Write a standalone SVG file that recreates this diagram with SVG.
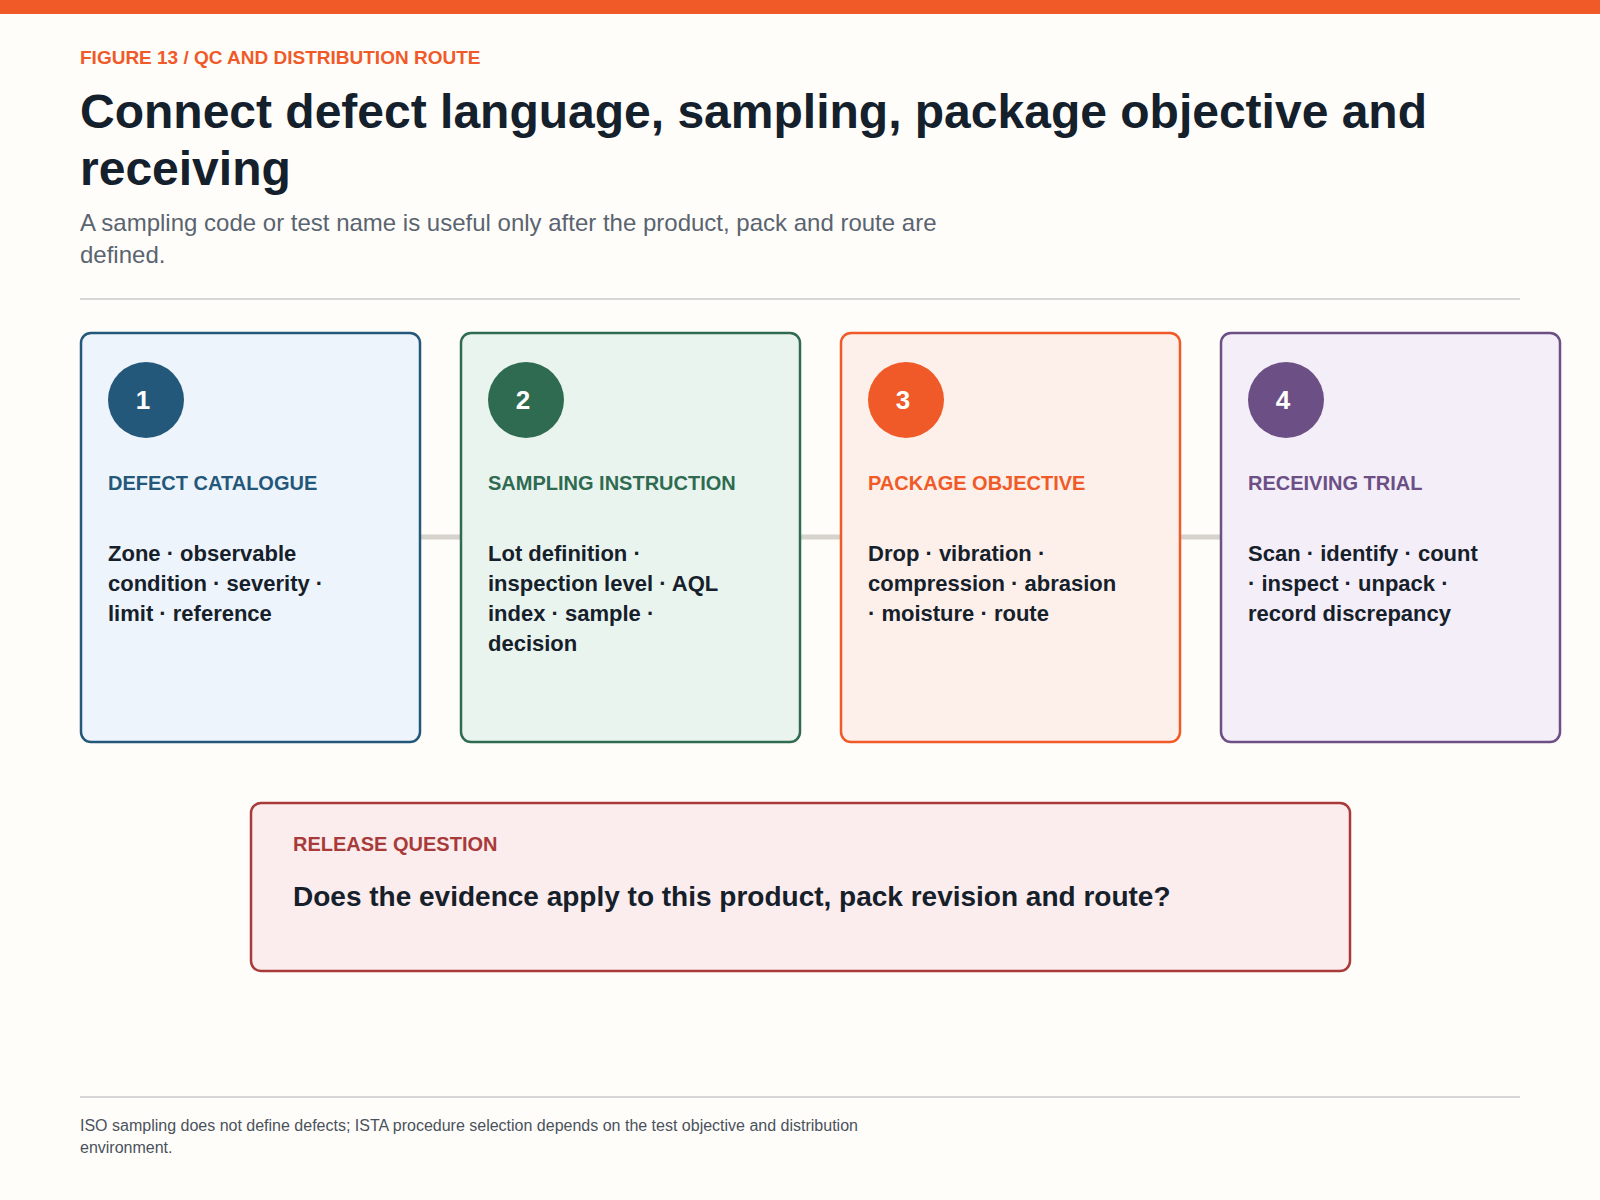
<svg xmlns="http://www.w3.org/2000/svg" width="1600" height="1200" viewBox="0 0 1600 1200">
<style>
text{font-family:"Liberation Sans",Arial,sans-serif}
.eb{font-size:19px;font-weight:bold;fill:#f05a28}
.title{font-size:48px;font-weight:bold;fill:#14202b}
.sub{font-size:24px;fill:#5a6470}
.card{stroke-width:2.5}
.num{font-size:26px;font-weight:bold;fill:#fff;text-anchor:middle}
.hd{font-size:20px;font-weight:bold}
.body{font-size:22px;font-weight:bold;fill:#16202a}
.conn{stroke:#d6d2cc;stroke-width:5}
.foot{font-size:16px;fill:#4a525c}
</style>
<rect width="1600" height="1200" fill="#fffdfa"/>
<rect width="1600" height="14" fill="#f05a28"/>
<text class="eb" x="80" y="64">FIGURE 13 / QC AND DISTRIBUTION ROUTE</text>
<text class="title" x="80" y="128">Connect defect language, sampling, package objective and</text>
<text class="title" x="80" y="185">receiving</text>
<text class="sub" x="80" y="231">A sampling code or test name is useful only after the product, pack and route are</text>
<text class="sub" x="80" y="263">defined.</text>
<line x1="80" y1="299" x2="1520" y2="299" stroke="#d6d6d6" stroke-width="2"/>
<g id="connectors">
<line class="conn" x1="420" y1="537" x2="461" y2="537"/>
<line class="conn" x1="800" y1="537" x2="841" y2="537"/>
<line class="conn" x1="1180" y1="537" x2="1221" y2="537"/>
</g>
<g id="node1">
<rect class="card" x="81" y="333" width="339" height="409" rx="10" fill="#edf4fb" stroke="#24587a"/>
<circle cx="146" cy="400" r="38" fill="#24587a"/>
<text class="num" x="143" y="409">1</text>
<text class="hd" x="108" y="490" fill="#24587a">DEFECT CATALOGUE</text>
<text class="body" x="108" y="561">Zone · observable</text>
<text class="body" x="108" y="591">condition · severity ·</text>
<text class="body" x="108" y="621">limit · reference</text>
</g>
<g id="node2">
<rect class="card" x="461" y="333" width="339" height="409" rx="10" fill="#eaf4ef" stroke="#2e6b50"/>
<circle cx="526" cy="400" r="38" fill="#2e6b50"/>
<text class="num" x="523" y="409">2</text>
<text class="hd" x="488" y="490" fill="#2e6b50">SAMPLING INSTRUCTION</text>
<text class="body" x="488" y="561">Lot definition ·</text>
<text class="body" x="488" y="591">inspection level · AQL</text>
<text class="body" x="488" y="621">index · sample ·</text>
<text class="body" x="488" y="651">decision</text>
</g>
<g id="node3">
<rect class="card" x="841" y="333" width="339" height="409" rx="10" fill="#fdf0ea" stroke="#f05a28"/>
<circle cx="906" cy="400" r="38" fill="#f05a28"/>
<text class="num" x="903" y="409">3</text>
<text class="hd" x="868" y="490" fill="#f05a28">PACKAGE OBJECTIVE</text>
<text class="body" x="868" y="561">Drop · vibration ·</text>
<text class="body" x="868" y="591">compression · abrasion</text>
<text class="body" x="868" y="621">· moisture · route</text>
</g>
<g id="node4">
<rect class="card" x="1221" y="333" width="339" height="409" rx="10" fill="#f3eef8" stroke="#6b4f85"/>
<circle cx="1286" cy="400" r="38" fill="#6b4f85"/>
<text class="num" x="1283" y="409">4</text>
<text class="hd" x="1248" y="490" fill="#6b4f85">RECEIVING TRIAL</text>
<text class="body" x="1248" y="561">Scan · identify · count</text>
<text class="body" x="1248" y="591">· inspect · unpack ·</text>
<text class="body" x="1248" y="621">record discrepancy</text>
</g>
<g id="release">
<rect class="card" x="251" y="803" width="1099" height="168" rx="10" fill="#fbeced" stroke="#a83a3a"/>
<text class="hd" x="293" y="851" fill="#a83a3a">RELEASE QUESTION</text>
<text x="293" y="906" font-size="28" font-weight="bold" fill="#16202a">Does the evidence apply to this product, pack revision and route?</text>
</g>
<line x1="80" y1="1097" x2="1520" y2="1097" stroke="#d6d6d6" stroke-width="2"/>
<text class="foot" x="80" y="1131">ISO sampling does not define defects; ISTA procedure selection depends on the test objective and distribution</text>
<text class="foot" x="80" y="1153">environment.</text>
</svg>
